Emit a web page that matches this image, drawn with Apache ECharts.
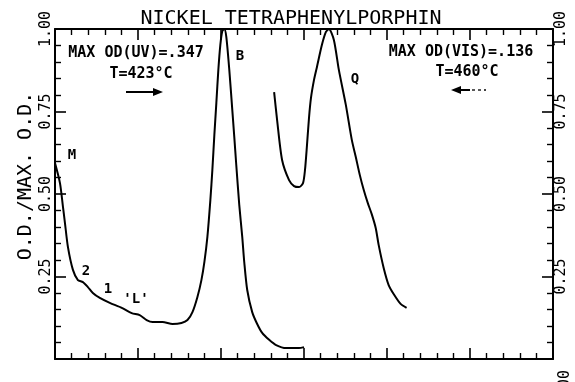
<!DOCTYPE html>
<html><head><meta charset="utf-8">
<script src="https://cdn.jsdelivr.net/npm/echarts@6/dist/echarts.min.js"></script>
<style>html,body{margin:0;padding:0;background:#fff}#c{width:575px;height:382px}</style>
</head><body><div id="c"></div>
<script>
// Wavenumber (cm-1) axis, decreasing to the right
const uvWavenumber = [32000,31760,31616,31520,31376,31136,30896,30656,30416,30176,29840,29360,28784,28304,27920,27584,27296,26816,26336,25904,25616,25376,25136,24944,24800,24656,24512,24416,24320,24224,24128,24032,23936,23840,23744,23600,23456,23360,23264,23120,22976,22880,22736,22496,22256,22016,21680,21344,20864,20240,20000];
const uvRelOD = [0.594,0.533,0.461,0.412,0.339,0.270,0.239,0.233,0.218,0.200,0.185,0.170,0.155,0.139,0.133,0.118,0.112,0.112,0.106,0.109,0.118,0.142,0.188,0.239,0.294,0.370,0.482,0.573,0.679,0.776,0.876,0.952,0.994,1.000,0.976,0.876,0.755,0.673,0.588,0.467,0.370,0.294,0.209,0.142,0.106,0.079,0.058,0.042,0.033,0.033,0.036];
const visWavenumber = [21440,21296,21056,20720,20480,20240,20048,19952,19856,19760,19664,19520,19376,19136,18944,18800,18560,18320,17984,17696,17504,17312,17120,16928,16736,16544,16400,16160,15920,15680,15344,15056];
const visRelOD = [0.809,0.724,0.603,0.542,0.524,0.521,0.533,0.573,0.648,0.730,0.791,0.845,0.885,0.952,0.991,1.000,0.967,0.876,0.770,0.664,0.612,0.558,0.512,0.473,0.439,0.397,0.345,0.276,0.224,0.197,0.167,0.155];
const yTickValues = [0.25, 0.50, 0.75, 1.00];
const titleText = 'NICKEL TETRAPHENYLPORPHIN';
const yAxisTitle = 'O.D./MAX. O.D.';

const FONT = '"DejaVu Sans Mono", monospace';
const chart = echarts.init(document.getElementById('c'), null, {renderer: 'canvas'});

function pairs(xs, ys) { return xs.map((x, i) => [x, ys[i]]); }

const tickStyle = {show: true, inside: true, length: 11, lineStyle: {color: '#000', width: 1.6}};
const minorStyle = {show: true, splitNumber: 5, length: 6, lineStyle: {color: '#000', width: 1.4}};
const lineStyleAxis = {show: true, onZero: false, lineStyle: {color: '#000', width: 2}};

function xAx(pos) {
  return {
    type: 'value', position: pos, min: 8000, max: 32000, interval: 4000, inverse: true,
    axisLine: lineStyleAxis, axisTick: tickStyle, minorTick: minorStyle,
    axisLabel: {show: false}, splitLine: {show: false}
  };
}
function yAx(pos) {
  return {
    type: 'value', position: pos, min: 0, max: 1, interval: 0.25,
    axisLine: lineStyleAxis, axisTick: tickStyle, minorTick: minorStyle,
    splitLine: {show: false},
    axisLabel: {
      show: true, rotate: 90, margin: 1, color: '#000', fontFamily: FONT, fontSize: 15,
      formatter: v => (yTickValues.some(t => Math.abs(t - v) < 1e-6) ? v.toFixed(2) : '')
    }
  };
}

function txt(text, x, y, size, weight, rot, align) {
  return {
    type: 'text', x: x, y: y, rotation: rot || 0, z: 100,
    style: {text: text, x: 0, y: 0, fill: '#000', align: align || 'center', verticalAlign: 'middle',
      font: (weight || 'normal') + ' ' + size + 'px ' + FONT}
  };
}

const graphics = [
  txt(titleText, 291, 19, 20, 'normal'),
  txt(yAxisTitle, 26, 176, 20, 'normal', Math.PI / 2),
  txt('MAX OD(UV)=.347', 136, 53, 15, 'bold'),
  txt('T=423°C', 141, 74, 15, 'bold'),
  txt('B', 240, 56, 14, 'bold'),
  txt('M', 72, 155, 14, 'bold'),
  txt('2', 86, 271, 14, 'bold'),
  txt('1', 108, 289, 14, 'bold'),
  txt("'L'", 136, 299, 14, 'bold'),
  txt('Q', 355, 79, 14, 'bold'),
  txt('MAX OD(VIS)=.136', 461, 52, 15, 'bold'),
  txt('T=460°C', 467, 72, 15, 'bold'),
  txt('8000', 565, 370, 15, 'normal', Math.PI / 2, 'right'),
  // right arrow
  {type: 'line', z: 100, shape: {x1: 126, y1: 92, x2: 156, y2: 92}, style: {stroke: '#000', lineWidth: 2}},
  {type: 'polygon', z: 100, shape: {points: [[163, 92], [153, 88], [153, 96]]}, style: {fill: '#000'}},
  // left arrow with dashed tail
  {type: 'line', z: 100, shape: {x1: 458, y1: 90, x2: 470, y2: 90}, style: {stroke: '#000', lineWidth: 2}},
  {type: 'line', z: 100, shape: {x1: 472, y1: 90, x2: 486, y2: 90}, style: {stroke: '#000', lineWidth: 1.3, lineDash: [3, 3]}},
  {type: 'polygon', z: 100, shape: {points: [[451, 90], [461, 86], [461, 94]]}, style: {fill: '#000'}}
];

chart.setOption({
  backgroundColor: '#fff',
  animation: false,
  grid: {left: 55, right: 22, top: 29, bottom: 23, containLabel: false},
  xAxis: [xAx('bottom'), xAx('top')],
  yAxis: [yAx('left'), yAx('right')],
  series: [
    {type: 'line', xAxisIndex: 0, yAxisIndex: 0, data: pairs(uvWavenumber, uvRelOD), smooth: 0.25,
      showSymbol: false, lineStyle: {color: '#000', width: 2}, clip: true},
    {type: 'line', xAxisIndex: 0, yAxisIndex: 0, data: pairs(visWavenumber, visRelOD), smooth: 0.25,
      showSymbol: false, lineStyle: {color: '#000', width: 2}, clip: true}
  ],
  graphic: graphics
});
</script></body></html>
